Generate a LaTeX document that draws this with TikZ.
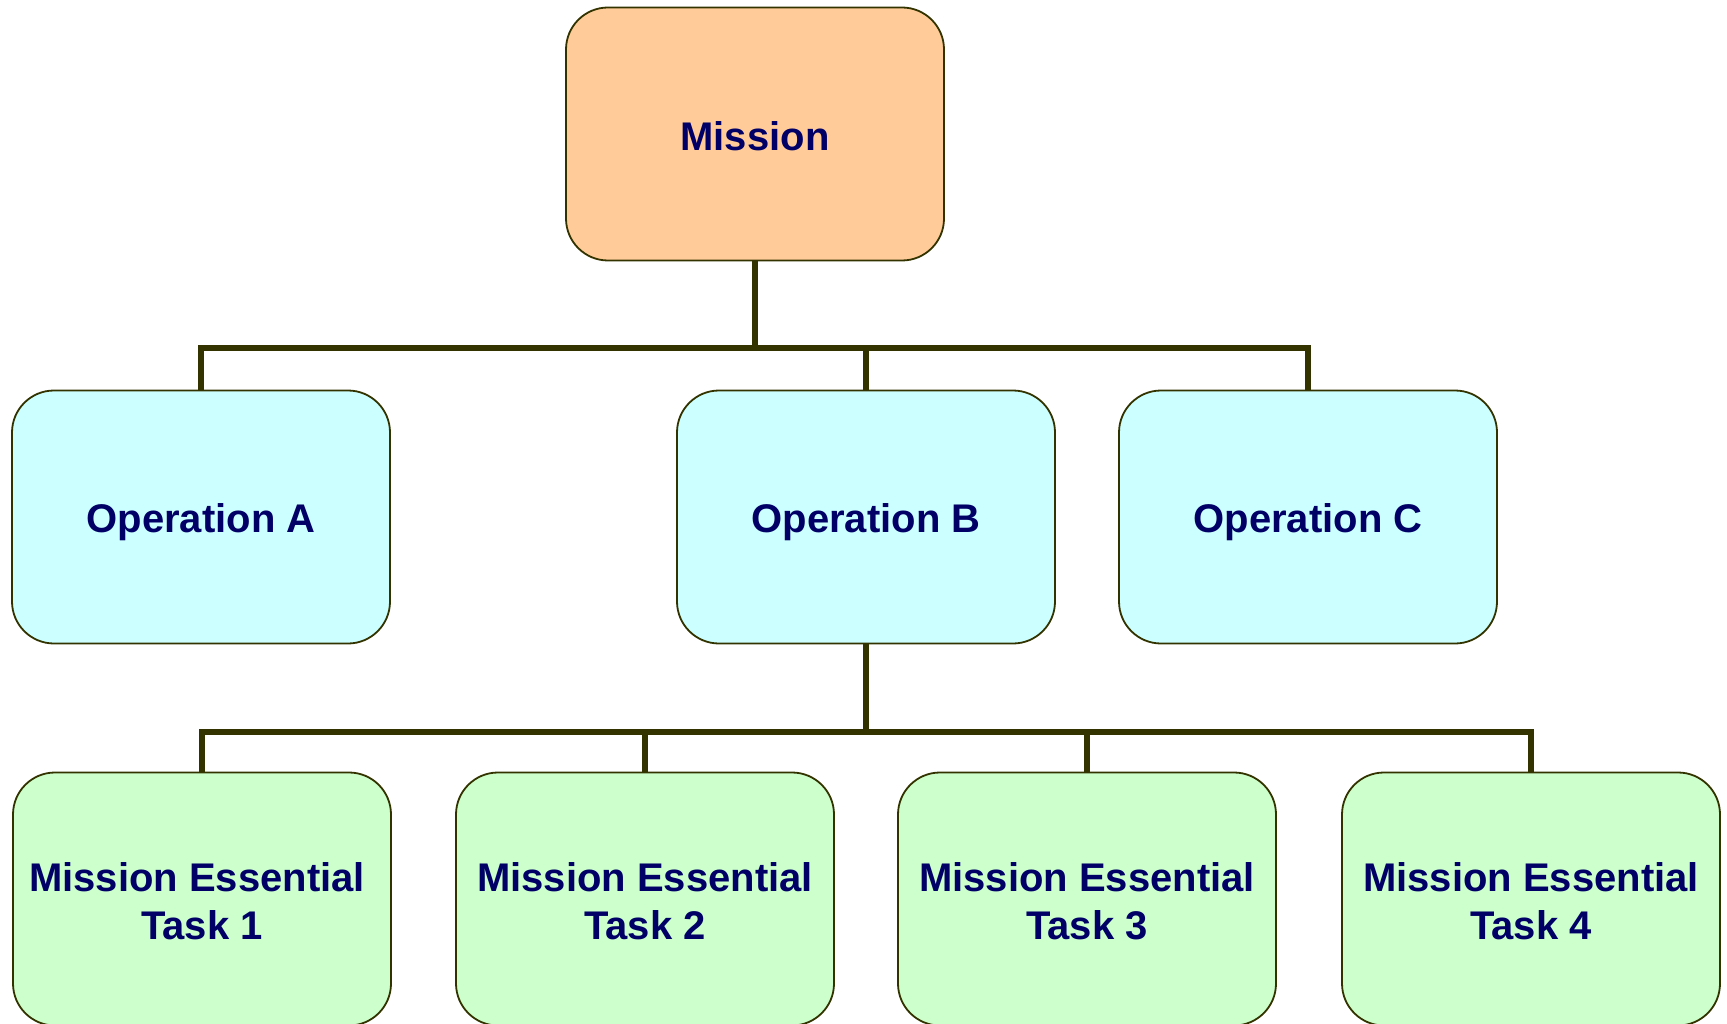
\documentclass[tikz,border=0pt]{standalone}
\usepackage{fontspec}
\setmainfont{Liberation Sans}
\definecolor{edge}{HTML}{333300}
\definecolor{navy}{HTML}{000066}
\definecolor{peach}{HTML}{FFCC99}
\definecolor{cyanbox}{HTML}{CCFFFF}
\definecolor{greenbox}{HTML}{CCFFCC}
\newcommand{\topstrut}{\rule{0pt}{33.5pt}}
\tikzset{
  box/.style={draw=edge, line width=1.8pt, rounded corners=42pt, minimum width=378pt, minimum height=253pt,
    inner sep=0pt, align=center, text=navy, font=\fontsize{40}{48}\selectfont\bfseries},
  missionbox/.style={box, fill=peach, text height=33pt, text depth=0pt},
  opbox/.style={box, fill=cyanbox, text height=30pt, text depth=0pt},
  taskbox/.style={box, fill=greenbox},
  conn/.style={draw=edge, line width=6pt}
}
\begin{document}
\begin{tikzpicture}[x=1pt,y=-1pt]
\useasboundingbox (0,0) rectangle (1727,1024);
\node[missionbox] (m) at (755,134) {Mission};
\node[opbox] (opA) at (201,517) {Operation A};
\node[opbox] (opB) at (866,517) {Operation B};
\node[opbox] (opC) at (1308,517) {Operation C};
\node[taskbox] (t1) at (202,899) {\topstrut Mission Essential\hspace*{10pt}\\Task 1};
\node[taskbox] (t2) at (645,899) {\topstrut Mission Essential\\Task 2};
\node[taskbox] (t3) at (1087,899) {\topstrut Mission Essential\\Task 3};
\node[taskbox] (t4) at (1531,899) {\topstrut Mission Essential\\Task 4};
\draw[conn] (m.south) -- ++(0,87) -| (opA.north);
\draw[conn] (m.south) -- ++(0,87) -| (opB.north);
\draw[conn] (m.south) -- ++(0,87) -| (opC.north);
\draw[conn] (opB.south) -- ++(0,88) -| (t1.north);
\draw[conn] (opB.south) -- ++(0,88) -| (t2.north);
\draw[conn] (opB.south) -- ++(0,88) -| (t3.north);
\draw[conn] (opB.south) -- ++(0,88) -| (t4.north);
\end{tikzpicture}
\end{document}
